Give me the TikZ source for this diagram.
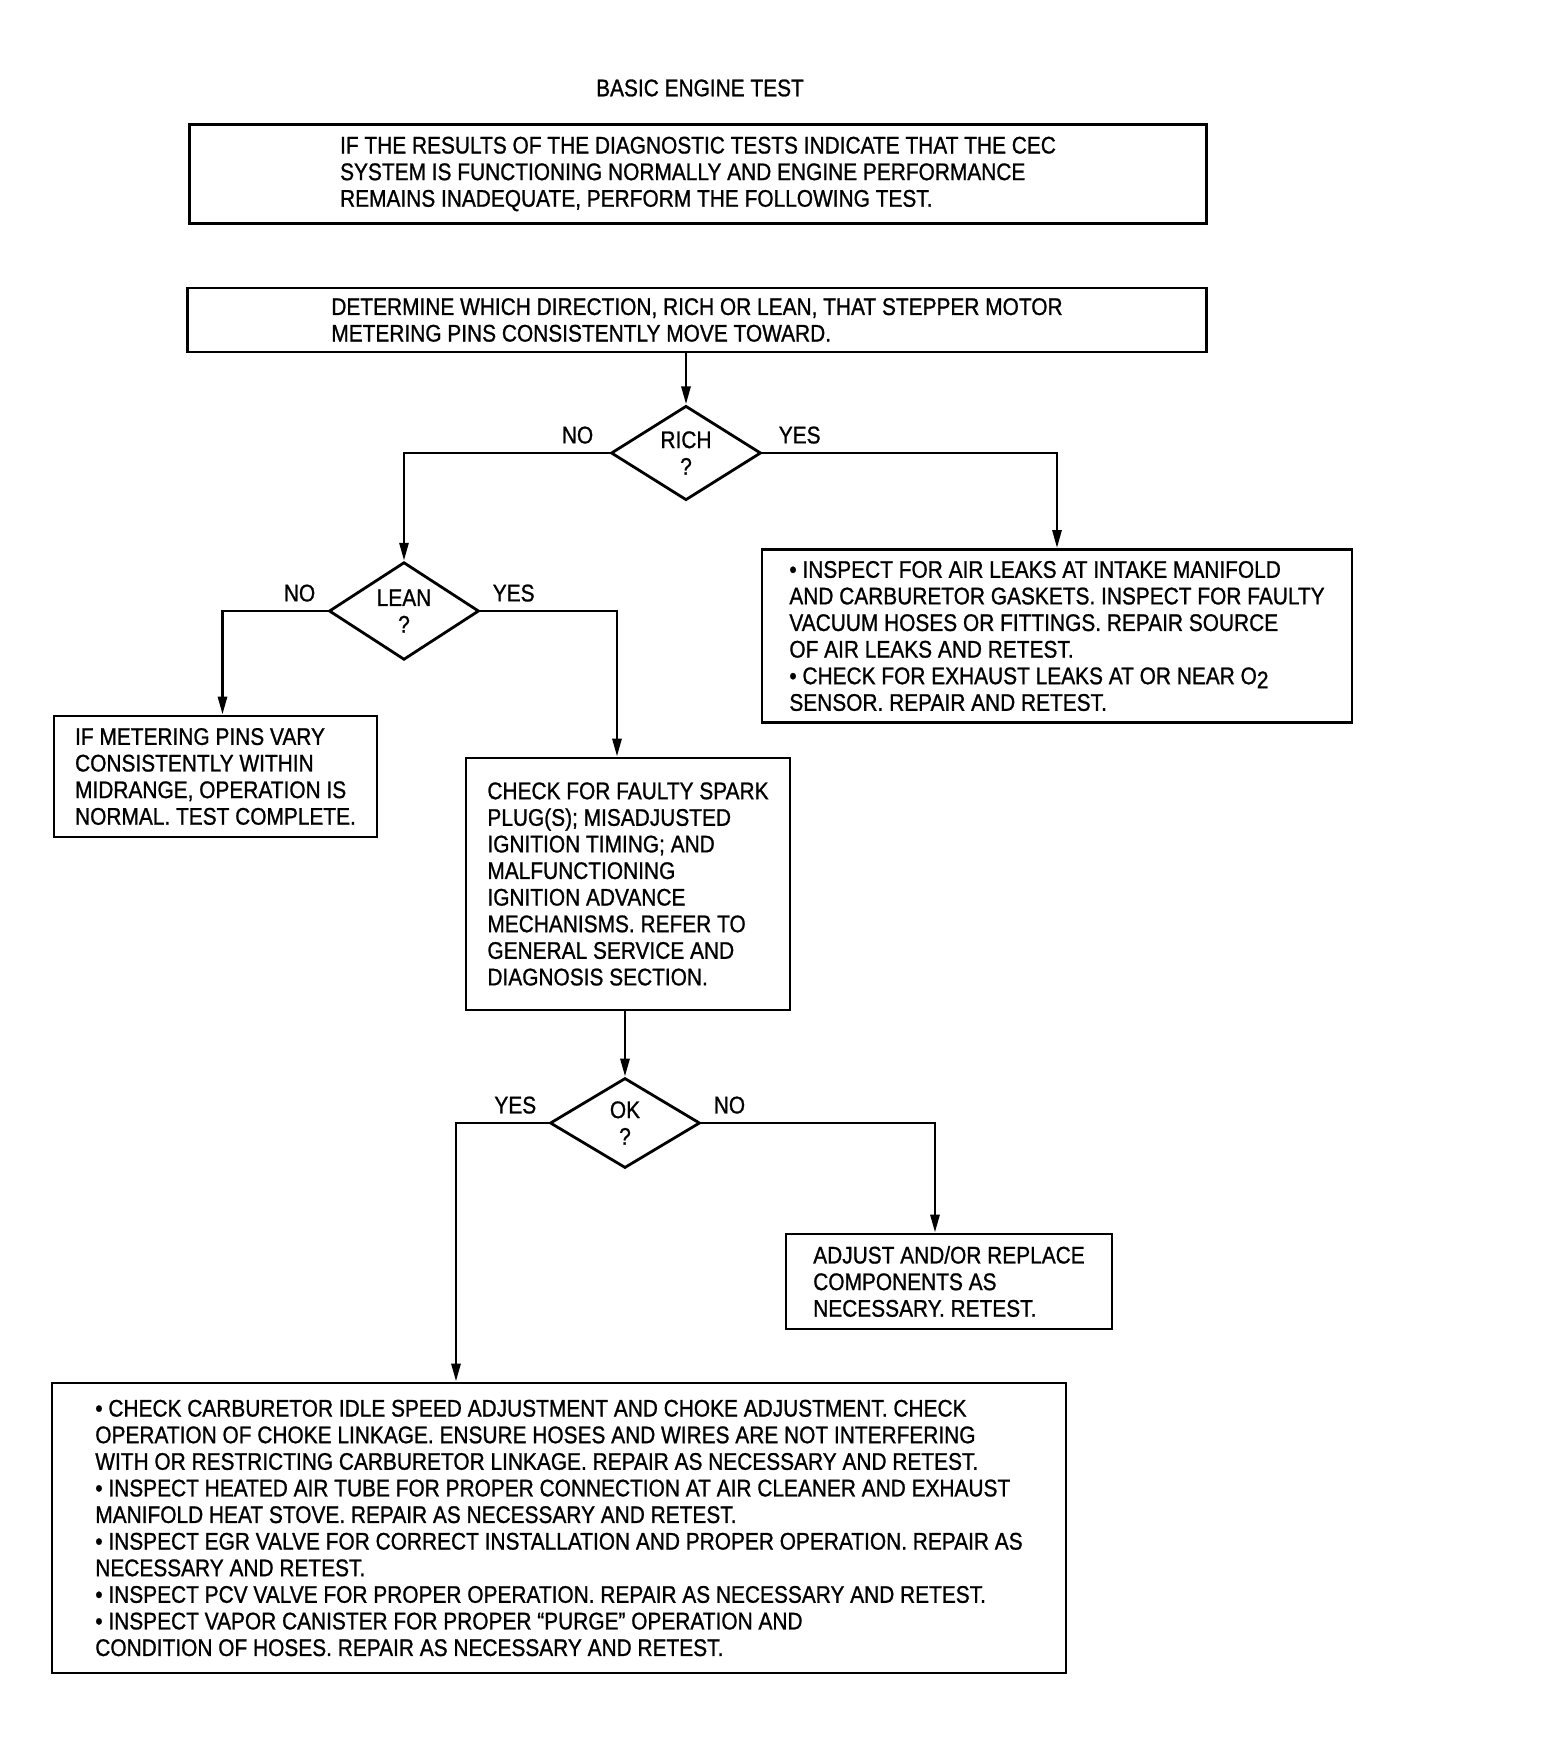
\documentclass[tikz,border=0pt]{standalone}
\usepackage{fontspec}
\setmainfont[FakeStretch=0.87,FakeBold=1]{Liberation Sans}
\usetikzlibrary{shapes.geometric,arrows.meta,positioning}

\begin{document}
\begin{tikzpicture}[
        x=0.5pt, y=-0.5pt,
        font=\fontsize{12}{13.3}\selectfont,
        stepbox/.style={draw, line width=1.4pt, align=left, inner sep=0pt},
        ask/.style={draw, diamond, line width=1.4pt, align=center, inner sep=0pt,
                minimum width=75pt, minimum height=45pt},
        lbl/.style={inner sep=0pt},
        flow/.style={line width=1.4pt, -{Triangle[length=9pt,width=4.5pt]}}
    ]
    \useasboundingbox (0,0) rectangle (1562,1762);

    \node[lbl] (title) at (700,88) {BASIC ENGINE TEST};

    \node[stepbox, minimum width=508.5pt, minimum height=49.5pt] (intro) at (698,174) {
        IF THE RESULTS OF THE DIAGNOSTIC TESTS INDICATE THAT THE CEC\\
        SYSTEM IS FUNCTIONING NORMALLY AND ENGINE PERFORMANCE\\
        REMAINS INADEQUATE, PERFORM THE FOLLOWING TEST.};
    \node[stepbox, minimum width=509.5pt, minimum height=32pt] (determine) at (697,320) {
        DETERMINE WHICH DIRECTION, RICH OR LEAN, THAT STEPPER MOTOR\\
        METERING PINS CONSISTENTLY MOVE TOWARD.};

    \node[ask] (rich) at (686,453) {RICH\\?};
    \node[ask] (lean) at (404,611) {LEAN\\?};

    \node[stepbox, minimum width=295pt, minimum height=86.5pt] (airleak) at (1057,636) {
        • INSPECT FOR AIR LEAKS AT INTAKE MANIFOLD\\
        AND CARBURETOR GASKETS. INSPECT FOR FAULTY\\
        VACUUM HOSES OR FITTINGS. REPAIR SOURCE\\
        OF AIR LEAKS AND RETEST.\\
        • CHECK FOR EXHAUST LEAKS AT OR NEAR O\raisebox{-2pt}{2}\\
        SENSOR. REPAIR AND RETEST.};
    \node[stepbox, minimum width=161.5pt, minimum height=60.5pt] (normal) at (215.5,776.5) {
        IF METERING PINS VARY\\
        CONSISTENTLY WITHIN\\
        MIDRANGE, OPERATION IS\\
        NORMAL. TEST COMPLETE.};
    \node[stepbox, minimum width=162pt, minimum height=126pt] (spark) at (628,884) {
        CHECK FOR FAULTY SPARK\\
        PLUG(S); MISADJUSTED\\
        IGNITION TIMING; AND\\
        MALFUNCTIONING\\
        IGNITION ADVANCE\\
        MECHANISMS. REFER TO\\
        GENERAL SERVICE AND\\
        DIAGNOSIS SECTION.};

    \node[ask] (ok) at (625,1123) {OK\\?};

    \node[stepbox, minimum width=163pt, minimum height=47.5pt] (adjust) at (949,1281.5) {
        ADJUST AND/OR REPLACE\\
        COMPONENTS AS\\
        NECESSARY. RETEST.};
    \node[stepbox, minimum width=507pt, minimum height=145pt] (final) at (559,1528) {
        • CHECK CARBURETOR IDLE SPEED ADJUSTMENT AND CHOKE ADJUSTMENT. CHECK\\
        OPERATION OF CHOKE LINKAGE. ENSURE HOSES AND WIRES ARE NOT INTERFERING\\
        WITH OR RESTRICTING CARBURETOR LINKAGE. REPAIR AS NECESSARY AND RETEST.\\
        • INSPECT HEATED AIR TUBE FOR PROPER CONNECTION AT AIR CLEANER AND EXHAUST\\
        MANIFOLD HEAT STOVE. REPAIR AS NECESSARY AND RETEST.\\
        • INSPECT EGR VALVE FOR CORRECT INSTALLATION AND PROPER OPERATION. REPAIR AS\\
        NECESSARY AND RETEST.\\
        • INSPECT PCV VALVE FOR PROPER OPERATION. REPAIR AS NECESSARY AND RETEST.\\
        • INSPECT VAPOR CANISTER FOR PROPER “PURGE” OPERATION AND\\
        CONDITION OF HOSES. REPAIR AS NECESSARY AND RETEST.};

    % yes / no labels
    \node[lbl, above left=4.5pt and 8pt of rich.west] (richno) {NO};
    \node[lbl, above right=4.5pt and 8pt of rich.east] (richyes) {YES};
    \node[lbl, above left=4.5pt and 6pt of lean.west] (leanno) {NO};
    \node[lbl, above right=4.5pt and 6pt of lean.east] (leanyes) {YES};
    \node[lbl, above left=4.5pt and 6pt of ok.west] (okyes) {YES};
    \node[lbl, above right=4.5pt and 6pt of ok.east] (okno) {NO};

    % connectors
    \draw[flow] (rich.north |- determine.south) -- (rich.north);
    \draw[flow] (rich.west) -| (lean.north);
    \draw[flow] (rich.east) -| (airleak.north);
    \draw[flow] (lean.west) -| ([xshift=3.5pt]normal.north);
    \draw[flow] (lean.east) -| ([xshift=-5.5pt]spark.north);
    \draw[flow] (spark.south -| ok.north) -- (ok.north);
    \draw[flow] (ok.west) -| ([xshift=-51.5pt]final.north);
    \draw[flow] (ok.east) -| ([xshift=-7pt]adjust.north);
\end{tikzpicture}
\end{document}
